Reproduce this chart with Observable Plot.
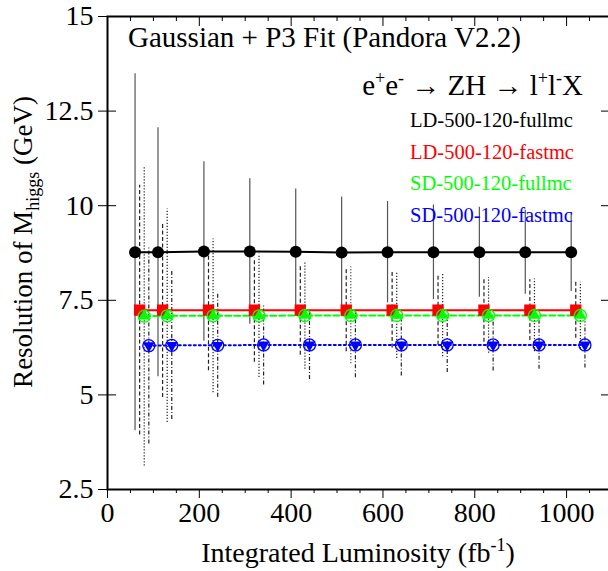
<!DOCTYPE html>
<html><head><meta charset="utf-8">
<script src="https://cdn.jsdelivr.net/npm/d3@7"></script>
<script src="https://cdn.jsdelivr.net/npm/@observablehq/plot@0.6"></script>
<style>
body{margin:0;background:#fff;overflow:hidden}
#chart{width:608px;height:571px;overflow:hidden;position:relative}
</style>
</head><body><div id="chart"></div>
<script>
// x positions (integrated luminosity, fb^-1), each sample shifted slightly per series
const xLDfull = [60,110,210,310,410,510,610,710,810,910,1010];
const xLDfast = [70,120,220,320,420,520,620,720,820,920,1020];
const xSDfull = [80,130,230,330,430,530,630,730,830,930,1030];
const xSDfast = [90,140,240,340,440,540,640,740,840,940,1040];
// resolution (GeV) and errors
const yLDfull = [8.77,8.77,8.79,8.79,8.78,8.76,8.77,8.77,8.77,8.77,8.77];
const eLDfull = [4.72,3.29,2.37,1.92,1.66,1.47,1.34,1.25,1.19,1.11,1.04];
const yLDfast = [7.24,7.24,7.24,7.24,7.24,7.24,7.24,7.24,7.24,7.24,7.24];
const eLDfast = [3.30,2.31,1.60,1.38,1.19,1.10,1.00,0.93,0.85,0.80,0.74];
const ySDfull = [7.08,7.09,7.09,7.09,7.10,7.10,7.10,7.10,7.10,7.10,7.10];
const eSDfull = [3.96,2.82,2.03,1.63,1.42,1.28,1.14,1.09,1.00,0.96,0.88];
const ySDfast = [6.30,6.31,6.31,6.32,6.32,6.32,6.32,6.32,6.32,6.32,6.32];
const eSDfast = [2.60,1.96,1.37,1.06,0.91,0.87,0.82,0.73,0.69,0.64,0.61];

const seriesNames = ["LD-500-120-fullmc","LD-500-120-fastmc","SD-500-120-fullmc","SD-500-120-fastmc"];
const seriesColors = ["#000000","#ff0000","#00ff00","#0000ff"];
const xTicksMajor = [0,200,400,600,800,1000];
const xTicksMinor = [50,100,150,250,300,350,450,500,550,650,700,750,850,900,950,1050];
const yTicks = [2.5,5,7.5,10,12.5,15];

const xs = [xLDfull,xLDfast,xSDfull,xSDfast];
const ys = [yLDfull,yLDfast,ySDfull,ySDfast];
const es = [eLDfull,eLDfast,eSDfull,eSDfast];
const rows = seriesNames.map((s,k)=>xs[k].map((x,i)=>({s,k,x,y:ys[k][i],e:es[k][i]})));
const errDash = [null,"4,2.5","1.2,1.8","4,2,1,2"];
const errColor = ["#555","#222","#222","#222"];
const lineDash = [null,null,"6,3","2,3"];
const FONT = "'Liberation Serif','Times New Roman',Times,serif";

const marks = [];
// error bars
rows.forEach((r,k)=>{
  marks.push(Plot.ruleX(r,{x:"x",y1:d=>d.y-d.e,y2:d=>d.y+d.e,stroke:errColor[k],strokeWidth:1.2,strokeDasharray:errDash[k]}));
});
// lines
rows.forEach((r,k)=>{
  marks.push(Plot.line(r,{x:"x",y:"y",stroke:seriesColors[k],strokeWidth:2,strokeDasharray:lineDash[k]}));
});
// markers
marks.push(Plot.dot(rows[0],{x:"x",y:"y",r:6,fill:"#000",stroke:"none"}));
marks.push(Plot.dot(rows[1],{x:"x",y:"y",symbol:"square",r:6.4,fill:"#ff0000",stroke:"none"}));
marks.push(Plot.dot(rows[2],{x:"x",y:"y",r:6,fill:"none",stroke:"#00ff00",strokeWidth:1.3}));
marks.push(Plot.dot(rows[2],{x:"x",y:"y",symbol:"triangle",r:4.4,fill:"#00ff00",stroke:"none"}));
marks.push(Plot.dot(rows[3],{x:"x",y:"y",r:6,fill:"none",stroke:"#0000ff",strokeWidth:1.3}));
marks.push(Plot.dot(rows[3],{x:"x",y:"y",symbol:"triangle",rotate:180,r:4.4,fill:"#0000ff",stroke:"none"}));
// axes
marks.push(Plot.axisX({ticks:xTicksMajor,tickSize:9,tickPadding:4,fontSize:28,fontFamily:FONT,label:null,tickFormat:d=>String(d)}));
marks.push(Plot.axisX({ticks:xTicksMinor,tickSize:4,text:null,label:null}));
marks.push(Plot.axisX({anchor:"top",ticks:xTicksMajor,tickSize:-9,text:null,label:null}));
marks.push(Plot.axisX({anchor:"top",ticks:xTicksMinor,tickSize:-4,text:null,label:null}));
marks.push(Plot.axisY({ticks:yTicks,tickSize:9,tickPadding:5,fontSize:28,fontFamily:FONT,label:null,tickFormat:d=>String(d)}));
marks.push(Plot.axisY({ticks:yTicks,tickSize:-9,text:null,label:null}));
marks.push(Plot.axisY({anchor:"right",ticks:yTicks,tickSize:-12,text:null,label:null}));
marks.push(Plot.frame({stroke:"#000",strokeWidth:2}));

const chart = Plot.plot({
  width:608, height:571,
  marginLeft:107, marginRight:-4, marginTop:16, marginBottom:82,
  x:{domain:[0,1100]},
  y:{domain:[2.5,15]},
  style:{fontFamily:FONT,background:"#fff",color:"#000"},
  marks
});
document.getElementById("chart").appendChild(chart);

// annotations (text)
const svg = d3.select(chart);
const g = svg.append("g").style("font-family",FONT).attr("fill","#000").attr("text-anchor","start");
g.append("text").attr("x",128).attr("y",47).attr("font-size",29).attr("text-anchor","start").text("Gaussian + P3 Fit (Pandora V2.2)");
const t2 = g.append("text").attr("x",583).attr("y",95).attr("font-size",29).attr("text-anchor","end");
t2.append("tspan").text("e");
t2.append("tspan").attr("dy",-11).attr("font-size",18).text("+");
t2.append("tspan").attr("dy",11).text("e");
t2.append("tspan").attr("dy",-11).attr("font-size",18).text("-");
t2.append("tspan").attr("dy",11).text(" \u2192 ZH \u2192 l");
t2.append("tspan").attr("dy",-11).attr("font-size",18).text("+");
t2.append("tspan").attr("dy",11).text("l");
t2.append("tspan").attr("dy",-11).attr("font-size",18).text("-");
t2.append("tspan").attr("dy",11).text("X");
seriesNames.forEach((s,k)=>{
  g.append("text").attr("x",410).attr("y",127+k*31.6).attr("font-size",20.5).attr("text-anchor","start").attr("fill",seriesColors[k]).text(s);
});
// axis titles
const xl = g.append("text").attr("x",358).attr("y",562).attr("font-size",28).attr("text-anchor","middle");
xl.append("tspan").text("Integrated Luminosity (fb");
xl.append("tspan").attr("dy",-11).attr("font-size",18).text("-1");
xl.append("tspan").attr("dy",11).text(")");
const yl = g.append("text").attr("transform","translate(32,242) rotate(-90)").attr("font-size",27).attr("text-anchor","middle");
yl.append("tspan").text("Resolution of M");
yl.append("tspan").attr("dy",7).attr("font-size",18).text("higgs");
yl.append("tspan").attr("dy",-7).text(" (GeV)");
</script></body></html>
